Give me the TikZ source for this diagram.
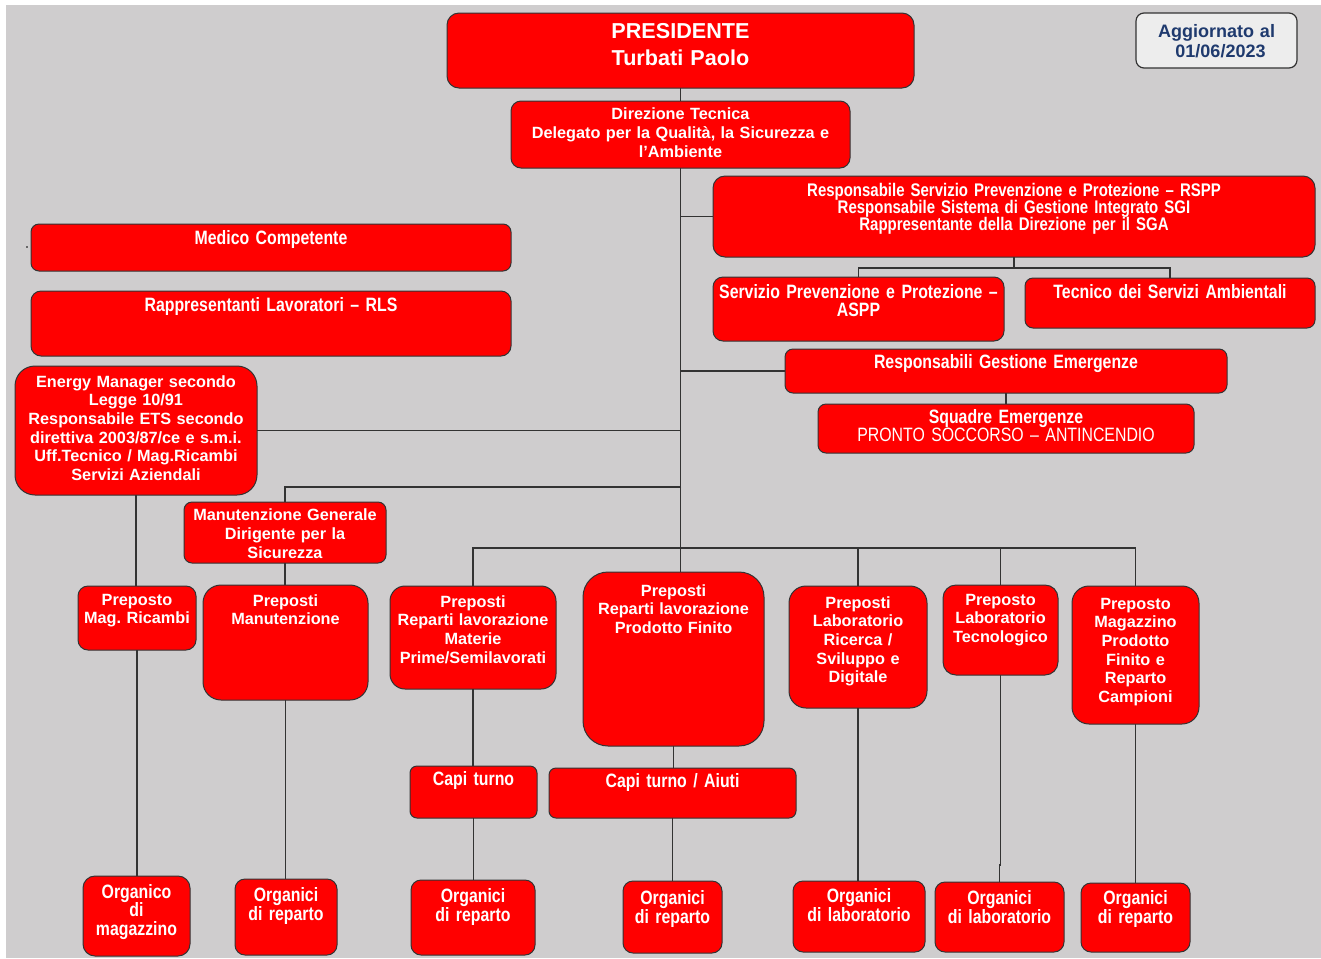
\documentclass[tikz,border=0pt]{standalone}
\usepackage{fontspec}
\setmainfont{Liberation Sans}
\newfontfamily\nfont[FakeStretch=0.82]{Liberation Sans}
\definecolor{bg}{HTML}{CFCDCE}
\definecolor{boxred}{HTML}{FF0000}
\definecolor{wirec}{HTML}{333333}
\definecolor{navy}{HTML}{1F3A6E}
\definecolor{agg}{HTML}{EDEDED}
\tikzset{x=0.75pt,y=-0.75pt,
 redbox/.style={draw=wirec, fill=boxred, line width=0.75pt, inner sep=0, outer sep=0},
 greybox/.style={draw=wirec, fill=agg, line width=0.9pt, inner sep=0, outer sep=0},
 wire/.style={draw=wirec, line width=1.1pt},
 nt/.style={text=white, inner sep=0, align=center, font=\frenchspacing\bfseries\fontsize{12.2}{14}\selectfont},
 ntn/.style={text=white, inner sep=0, align=center, font=\frenchspacing\nfont\bfseries\fontsize{14.5}{13.5}\selectfont},
}
\newcommand\bx[7][redbox]{%
 \pgfmathsetlengthmacro\bxw{(#5-#3)*0.75pt}%
 \pgfmathsetlengthmacro\bxh{(#6-#4)*0.75pt}%
 \pgfmathsetlengthmacro\bxr{#7*0.75pt}%
 \node[#1, rounded corners=\bxr, minimum width=\bxw, minimum height=\bxh, anchor=north west] (#2) at (#3,#4) {};}
\newcommand\tx[5][nt]{%
 \node[#1, text width=600pt, anchor=base] (#2) at (#3,#4) {#5};}
\begin{document}
\begin{tikzpicture}
\useasboundingbox (0,0) rectangle (1321,958);
\fill[bg] (6,5) rectangle (1321,958);
\fill[black] (27,247) circle (0.6pt);
% boxes
\bx{pres}{447}{13}{914}{88}{12}
\bx[greybox]{agg}{1136}{13}{1297}{68}{8}
\bx{dir}{511}{101}{850}{168}{10}
\bx{rspp}{713}{176}{1315}{257}{12}
\bx{medico}{31}{224}{511}{271}{8}
\bx{rls}{31}{291}{511}{356}{10}
\bx{aspp}{713}{277}{1004}{341}{10}
\bx{tec}{1025}{278}{1315}{328}{8}
\bx{rge}{785}{349}{1227}{393}{8}
\bx{sq}{818}{404}{1194}{453}{8}
\bx{energy}{15}{366}{257}{495}{20}
\bx{mg}{184}{502}{386}{563}{8}
\bx{pmr}{78}{586}{196}{650}{10}
\bx{pman}{203}{585}{368}{700}{18}
\bx{pmat}{390}{586}{556}{689}{15}
\bx{ppf}{583}{572}{764}{746}{25}
\bx{plr}{789}{586}{927}{708}{17}
\bx{plt}{943}{585}{1058}{675}{13}
\bx{pmag}{1072}{586}{1199}{724}{17}
\bx{ct}{410}{766}{537}{818}{7}
\bx{cta}{549}{768}{796}{818}{7}
\bx{om}{83}{876}{190}{956}{12}
\bx{or1}{235}{879}{337}{955}{10}
\bx{or2}{411}{880}{535}{955}{10}
\bx{or3}{623}{881}{722}{953}{10}
\bx{ol1}{793}{881}{925}{952}{10}
\bx{ol2}{935}{882}{1064}{952}{10}
\bx{or4}{1081}{883}{1190}{952}{10}
% texts
\tx[nt, font=\bfseries\fontsize{16.2}{20.25}\selectfont]{t-pres}{680.5}{38}{PRESIDENTE\\Turbati Paolo}
\tx[nt, text=navy, font=\bfseries\fontsize{13.5}{15}\selectfont]{t-agg}{1216.5}{37}{Aggiornato al\\\hspace*{6pt}01/06/2023}
\tx[nt, font=\bfseries\fontsize{12.2}{14.25}\selectfont]{t-dir}{680.5}{119}{Direzione Tecnica\\Delegato per la Qualità, la Sicurezza e\\l’Ambiente}
\tx[ntn, font=\nfont\bfseries\fontsize{13.7}{13.1}\selectfont]{t-rspp}{1014}{196}{Responsabile Servizio Prevenzione e Protezione – RSPP\\Responsabile Sistema di Gestione Integrato SGI\\Rappresentante della Direzione per il SGA}
\tx[ntn]{t-medico}{271}{244}{Medico Competente}
\tx[ntn]{t-rls}{271}{311}{Rappresentanti Lavoratori – RLS}
\tx[ntn]{t-aspp}{858.5}{298}{Servizio Prevenzione e Protezione –\\ASPP}
\tx[ntn]{t-tec}{1170}{298}{Tecnico dei Servizi Ambientali}
\tx[ntn]{t-rge}{1006}{368}{Responsabili Gestione Emergenze}
\tx[ntn]{t-sq}{1006}{423}{Squadre Emergenze\\{\mdseries PRONTO SOCCORSO – ANTINCENDIO}}
\tx[nt]{t-energy}{136}{387}{Energy Manager secondo\\Legge 10/91\\Responsabile ETS secondo\\direttiva 2003/87/ce e s.m.i.\\Uff.Tecnico / Mag.Ricambi\\Servizi Aziendali}
\tx[nt, font=\bfseries\fontsize{12.2}{14.25}\selectfont]{t-mg}{285}{520}{Manutenzione Generale\\Dirigente per la\\Sicurezza}
\tx[nt]{t-pmr}{137}{605}{Preposto\\Mag. Ricambi}
\tx[nt]{t-pman}{285.5}{606}{Preposti\\Manutenzione}
\tx[nt]{t-pmat}{473}{607}{Preposti\\Reparti lavorazione\\Materie\\Prime/Semilavorati}
\tx[nt]{t-ppf}{673.5}{596}{Preposti\\Reparti lavorazione\\Prodotto Finito}
\tx[nt]{t-plr}{858}{608}{Preposti\\Laboratorio\\Ricerca /\\Sviluppo e\\Digitale}
\tx[nt]{t-plt}{1000.5}{605}{Preposto\\Laboratorio\\Tecnologico}
\tx[nt]{t-pmag}{1135.5}{609}{Preposto\\Magazzino\\Prodotto\\Finito e\\Reparto\\Campioni}
\tx[ntn]{t-ct}{473.5}{785}{Capi turno}
\tx[ntn]{t-cta}{672.5}{787}{Capi turno / Aiuti}
\tx[ntn, font=\nfont\bfseries\fontsize{14.5}{13.9}\selectfont]{t-om}{136.5}{898}{Organico\\di\\magazzino}
\tx[ntn]{t-or1}{286}{901}{Organici\\di reparto}
\tx[ntn]{t-or2}{473}{902}{Organici\\di reparto}
\tx[ntn]{t-or3}{672.5}{904}{Organici\\di reparto}
\tx[ntn]{t-ol1}{859}{902}{Organici\\di laboratorio}
\tx[ntn]{t-ol2}{999.5}{904}{Organici\\di laboratorio}
\tx[ntn]{t-or4}{1135.5}{904}{Organici\\di reparto}
% connectors
\draw[wire] (pres.south) -- (dir.north);
\draw[wire] (dir.south) -- (dir.south |- ppf.north);
\draw[wire] (dir.south |- rspp.west) -- (rspp.west);
\path (rspp.south) ++(0,11) coordinate (r1);
\draw[wire] (rspp.south) -- (r1);
\draw[wire] (aspp.north) |- (r1) -| (tec.north);
\draw[wire] (dir.south |- rge.west) -- (rge.west);
\draw[wire] (rge.south) -- (sq.north);
\draw[wire] (energy.east) -- (dir.south |- energy.east);
\coordinate (m1) at (681,487);
\draw[wire] (m1) -| (mg.north);
\draw[wire] (energy.south) -- (energy.south |- pmr.north);
\draw[wire] (mg.south) -- (mg.south |- pman.north);
\coordinate (b0) at (681,548);
\draw[wire] (pmat.north) |- (pmag.north |- b0) -- (pmag.north);
\draw[wire] (plr.north) -- (plr.north |- b0);
\draw[wire] (plt.north) -- (plt.north |- b0);
\draw[wire] (pmat.south) -- (pmat.south |- ct.north);
\draw[wire] (ct.south) -- (ct.south |- or2.north);
\draw[wire] (ppf.south) -- (ppf.south |- cta.north);
\draw[wire] (cta.south) -- (cta.south |- or3.north);
\draw[wire] (pmr.south) -- (pmr.south |- om.north);
\draw[wire] (pman.south) -- (pman.south |- or1.north);
\draw[wire] (plr.south) -- (plr.south |- ol1.north);
\draw[wire] (plt.south) -- ++(0,190) -| (ol2.north);
\draw[wire] (pmag.south) -- (pmag.south |- or4.north);
\end{tikzpicture}
\end{document}
